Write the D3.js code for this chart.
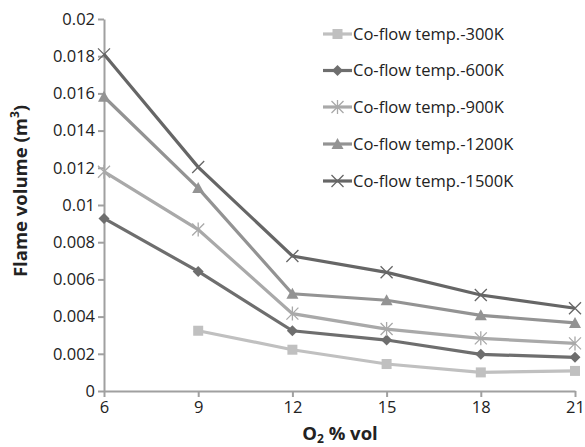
<!DOCTYPE html>
<html><head><meta charset="utf-8">
<script src="https://cdn.jsdelivr.net/npm/d3@7"></script>
<style>body{margin:0;background:#fff}svg{display:block}text{font-family:"Open Sans","Liberation Sans",sans-serif}</style>
</head><body><svg id="c" width="585" height="447"></svg>
<script>
const xValues = [6, 9, 12, 15, 18, 21];
const seriesNames = ["Co-flow temp.-300K","Co-flow temp.-600K","Co-flow temp.-900K","Co-flow temp.-1200K","Co-flow temp.-1500K"];
const s300  = [null, 0.00324, 0.00222, 0.00145, 0.00100, 0.00108];
const s600  = [0.00928, 0.00643, 0.00324, 0.00274, 0.00197, 0.00181];
const s900  = [0.01179, 0.00868, 0.00416, 0.00333, 0.00283, 0.00256];
const s1200 = [0.01582, 0.01091, 0.00523, 0.00488, 0.00407, 0.00366];
const s1500 = [0.01810, 0.01204, 0.00726, 0.00638, 0.00516, 0.00445];
const yTicks = [0,0.002,0.004,0.006,0.008,0.01,0.012,0.014,0.016,0.018,0.02];
const yTickLabels = ["0","0.002","0.004","0.006","0.008","0.01","0.012","0.014","0.016","0.018","0.02"];

const seriesData = [s300, s600, s900, s1200, s1500];
const colors = ["#c0c0c0","#6e6e6e","#a9a9a9","#939393","#666666"];
const markers = ["square","diamond","asterisk","triangle","cross"];

const svg = d3.select("#c");
const x = d3.scaleLinear().domain([6,21]).range([104,575]);
const y = d3.scaleLinear().domain([0,0.02]).range([391,19]);
const axisColor = "#a0a0a0";

// y axis
const ya = svg.append("g").attr("transform","translate(104,0)")
  .call(d3.axisLeft(y).tickValues(yTicks).tickFormat((d,i)=>yTickLabels[i]).tickSize(6).tickSizeOuter(0));
ya.select(".domain").attr("stroke",axisColor).attr("stroke-width",2);
ya.selectAll(".tick line").attr("stroke",axisColor).attr("stroke-width",2);
ya.selectAll(".tick text").attr("font-size",16.5).attr("fill","#222").attr("x",-9);

// x axis
const xa = svg.append("g").attr("transform","translate(0,391)")
  .call(d3.axisBottom(x).tickValues(xValues).tickFormat(d3.format("d")).tickSize(6).tickSizeOuter(0));
xa.select(".domain").attr("stroke",axisColor).attr("stroke-width",2);
xa.selectAll(".tick line").attr("stroke",axisColor).attr("stroke-width",2);
xa.selectAll(".tick text").attr("font-size",16.5).attr("fill","#222").attr("dy","0.8em");

// titles
svg.append("text").attr("transform","translate(27,191) rotate(-90)").attr("text-anchor","middle")
  .attr("font-size",18.5).attr("font-weight","bold").attr("fill","#222")
  .html('Flame volume (m<tspan font-size="12" dy="-8">3</tspan><tspan dy="8">)</tspan>');
svg.append("text").attr("x",340).attr("y",440).attr("text-anchor","middle")
  .attr("font-size",18.5).attr("font-weight","bold").attr("fill","#222")
  .html('O<tspan font-size="12" dy="3">2</tspan><tspan dy="-3"> % vol</tspan>');

function drawMarker(g, type, cx, cy, color){
  if(type==="square"){
    g.append("rect").attr("x",cx-5).attr("y",cy-5).attr("width",10).attr("height",10).attr("fill",color);
  } else if(type==="diamond"){
    g.append("path").attr("d",`M${cx},${cy-5.5}L${cx+5.5},${cy}L${cx},${cy+5.5}L${cx-5.5},${cy}Z`).attr("fill",color);
  } else if(type==="triangle"){
    g.append("path").attr("d",`M${cx},${cy-6}L${cx+6},${cy+5}L${cx-6},${cy+5}Z`).attr("fill",color);
  } else if(type==="cross"){
    g.append("path").attr("d",`M${cx-6},${cy-6}L${cx+6},${cy+6}M${cx-6},${cy+6}L${cx+6},${cy-6}`).attr("stroke",color).attr("stroke-width",1.3);
  } else if(type==="asterisk"){
    g.append("path").attr("d",`M${cx-6},${cy-6}L${cx+6},${cy+6}M${cx-6},${cy+6}L${cx+6},${cy-6}M${cx},${cy-7}L${cx},${cy+7}`).attr("stroke",color).attr("stroke-width",1.3);
  }
}

const line = d3.line().defined(d=>d.v!=null).x(d=>x(d.x)).y(d=>y(d.v));
seriesData.forEach((s,i)=>{
  const pts = xValues.map((xv,j)=>({x:xv,v:s[j]}));
  const g = svg.append("g");
  g.append("path").attr("d",line(pts)).attr("fill","none").attr("stroke",colors[i]).attr("stroke-width",3.2);
  pts.filter(p=>p.v!=null).forEach(p=>drawMarker(g,markers[i],x(p.x),y(p.v),colors[i]));
});

// legend
const legY = [34, 70.5, 107, 144, 181];
seriesNames.forEach((n,i)=>{
  const g = svg.append("g");
  g.append("line").attr("x1",323).attr("x2",352).attr("y1",legY[i]).attr("y2",legY[i]).attr("stroke",colors[i]).attr("stroke-width",3.2);
  drawMarker(g,markers[i],337.5,legY[i],colors[i]);
  g.append("text").attr("x",353).attr("y",legY[i]).attr("dy","0.35em").attr("font-size",16.5).attr("fill","#222").text(n);
});
</script></body></html>
